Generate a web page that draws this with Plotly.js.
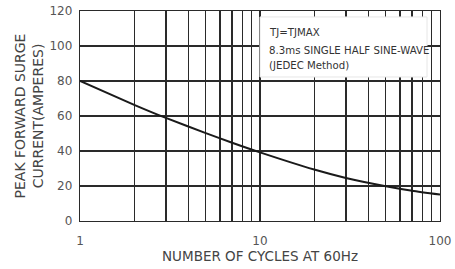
<!DOCTYPE html>
<html><head><meta charset="utf-8">
<script src="https://cdn.plot.ly/plotly-3.0.1.min.js"></script>
<style>html,body{margin:0;padding:0;background:#fff}#c{width:455px;height:269px}</style>
</head><body><div id="c"></div>
<script>
const cycles = [1, 2, 3, 5, 7, 10, 20, 30, 50, 70, 100];
const current = [80, 66.4, 58.9, 50.2, 44.7, 39.2, 29.4, 24.6, 19.9, 17.3, 15.1];
const xTickVals = [1,2,3,4,5,6,7,8,9,10,20,30,40,50,60,70,80,90,100];
const xTickText = ['1','','','','','','','','','10','','','','','','','','','100'];
const yTickVals = [0, 20, 40, 60, 80, 100, 120];
const noteLines = ['TJ=TJMAX', '8.3ms SINGLE HALF SINE-WAVE', '(JEDEC Method)'];
const noteY = [108, 97.3, 88.6];

const fam = 'DejaVu Sans, sans-serif';
const data = [{
  x: cycles, y: current, type: 'scatter', mode: 'lines',
  line: {color: '#1a1a1a', width: 2, shape: 'spline', smoothing: 0.6},
  hoverinfo: 'skip'
}];
const layout = {
  width: 455, height: 269,
  margin: {l: 80, r: 15, t: 11, b: 48},
  paper_bgcolor: '#fff', plot_bgcolor: '#fff',
  showlegend: false,
  font: {family: fam, size: 12, color: '#555'},
  xaxis: {
    type: 'log', range: [0, 2],
    tickvals: xTickVals, ticktext: xTickText,
    showgrid: true, gridcolor: '#2a2a2a', gridwidth: 1.3,
    showline: true, linecolor: '#2a2a2a', linewidth: 1.3, mirror: true,
    ticks: '', zeroline: false, ticklabelstandoff: 8,
    tickfont: {family: fam, size: 12, color: '#555'},
    title: {text: 'NUMBER OF CYCLES AT 60Hz', font: {family: fam, size: 13.5, color: '#444'}, standoff: 3}
  },
  yaxis: {
    range: [0, 120], tickvals: yTickVals,
    showgrid: true, gridcolor: '#2a2a2a', gridwidth: 1.3,
    showline: true, linecolor: '#2a2a2a', linewidth: 1.3, mirror: true,
    ticks: '', zeroline: false, ticklabelstandoff: 4,
    tickfont: {family: fam, size: 12, color: '#555'},
    title: {text: 'PEAK FORWARD SURGE<br>CURRENT(AMPERES)', font: {family: fam, size: 14, color: '#444'}, standoff: 2}
  },
  shapes: [{
    type: 'rect', xref: 'x', yref: 'y', layer: 'above',
    x0: 10, x1: 84.7, y0: 82.3, y1: 116.6,
    fillcolor: '#fff', line: {color: '#e6e6e6', width: 1}
  }],
  annotations: noteLines.map((t, i) => ({
    xref: 'x', yref: 'y', x: Math.log10(11.0), y: noteY[i],
    xanchor: 'left', yanchor: 'middle', align: 'left', showarrow: false,
    text: t, font: {family: fam, size: 10.2, color: '#333'}
  }))
};
Plotly.newPlot('c', data, layout, {staticPlot: true, displayModeBar: false});
</script></body></html>
